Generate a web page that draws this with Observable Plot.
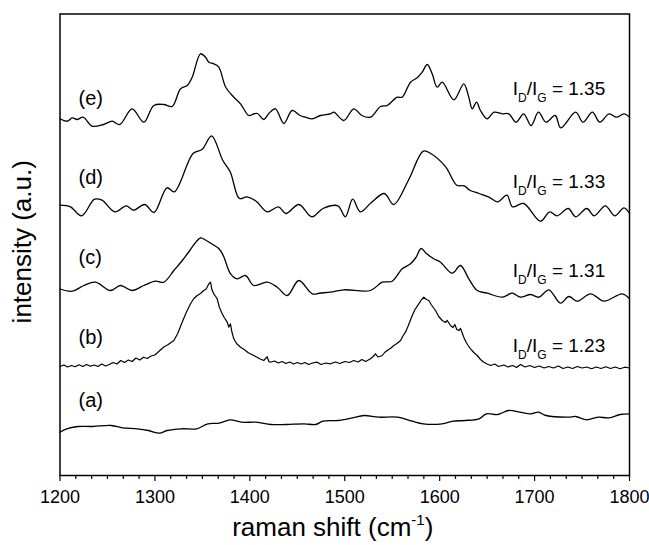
<!DOCTYPE html>
<html>
<head>
<meta charset="utf-8">
<script src="https://cdn.jsdelivr.net/npm/d3@7"></script>
<script src="https://cdn.jsdelivr.net/npm/@observablehq/plot@0.6"></script>
<style>
  html, body { margin: 0; padding: 0; background: #fff; }
  #chart { width: 649px; height: 545px; }
</style>
</head>
<body>
<div id="chart"></div>
<script>
// Raman spectra: [raman shift (cm-1), intensity (a.u., stacked)]
const spectrumA = [
  [1200,43.3],[1207,46.7],[1218.8,49],[1234.4,49],[1254,50],[1265.8,47.7],[1281.4,46.7],[1293.2,45],
  [1304.9,42.3],[1312.7,45],[1328.4,46.7],[1344,46.7],[1355.8,51.7],[1367.5,52.3],[1379.3,55.7],[1391,53.3],
  [1406.7,53.3],[1422.3,51],[1438,51],[1457.5,51.7],[1469.3,51],[1477.1,54.3],[1492.8,55],[1508.4,57.7],
  [1520.2,60],[1535.8,58.3],[1555.4,58.3],[1571,54.3],[1582.8,51.7],[1602.4,51.7],[1614.1,54.3],[1625.8,55],
  [1641.5,56.7],[1649.3,61.7],[1661.1,61],[1672.8,65],[1684.5,63.3],[1696.3,61.7],[1704.1,63.3],[1712,60],
  [1735.4,58.3],[1743.3,59],[1755,55.7],[1766.8,58.3],[1778.5,57.7],[1790.2,61],[1800,61.7]
];
const spectrumB = [
  [1200,109],[1204,110.5],[1208,108.5],[1212,110],[1216,108.8],[1220,110.7],[1224,109],[1228,111],
  [1232,109.2],[1236,110.5],[1240,109],[1244,111.5],[1248,109.5],[1252,111],[1256,113],[1260,111.5],
  [1264,115],[1268,113],[1272,115.5],[1276,114],[1280,117.5],[1284,115.5],[1288,118.3],[1292,117],
  [1296,119.5],[1300,120.5],[1304,124],[1309,128.3],[1314,131],[1320,135],[1324,142],[1328.7,153.3],
  [1333,163],[1337.5,171.7],[1341,177],[1344.6,180],[1348,182],[1351.5,185],[1354,186.5],[1356.8,191.7],
  [1358.6,193.3],[1360,186],[1362,181.7],[1364,179],[1365.6,176.7],[1368,168],[1370.9,161.7],[1373,158],
  [1376.2,153.3],[1377.8,148.3],[1379.6,151.7],[1381,144],[1383.1,136.7],[1386,132],[1390.2,128.3],[1394,126],
  [1398,123],[1401,121.5],[1404.2,120],[1408,118],[1411,116.5],[1414.7,115],[1418.3,118.8],[1420,114],
  [1421.8,113.3],[1426,114.5],[1430,112.5],[1434,114],[1438,112],[1442,113.5],[1446,111.5],[1450,113],
  [1454,111.5],[1458,113],[1462,111],[1466,112.5],[1471,113.3],[1475,111],[1480,112.5],[1485,111.7],
  [1490,113.5],[1495,112],[1500,114],[1505,113],[1509.5,115],[1514,113.5],[1518,116],[1522,114],
  [1527.1,116.7],[1530,119],[1532.4,121.7],[1535,118.5],[1539.5,120],[1542,123],[1544.7,125],[1548,127],
  [1551.7,130],[1555,132],[1558.8,135],[1561,139],[1564,143.3],[1567,150],[1571.1,160],[1574,166],
  [1578,171.7],[1581,176],[1583.3,178.3],[1586,176],[1588.6,175],[1591,171],[1595.6,165],[1599,159],
  [1602.7,155],[1606,153],[1608,155],[1611.4,150],[1614,148],[1616,151],[1618,146],[1620.2,145],
  [1622,147],[1625.4,138.3],[1628,133],[1630,130],[1632.5,126.7],[1636,123],[1639.6,120],[1643,116],
  [1646.5,113.3],[1650,111.5],[1653.6,110],[1658,111.5],[1662,109],[1667.6,110.5],[1672,108.5],[1677,110],
  [1681,108],[1685.2,111],[1690,108.5],[1695,110],[1700,108],[1705,109.5],[1710,107.5],[1715,109],
  [1720,107.5],[1725,109.5],[1730,107],[1735,108.5],[1740,107],[1745,109],[1750,107.5],[1755,108.5],
  [1760,106.8],[1765,108.5],[1770,107],[1775,108.8],[1780,107],[1785,108.5],[1790,106.8],[1795,108.3],
  [1800,107.5]
];
const spectrumC = [
  [1200,186.5],[1212.9,184.3],[1225.1,190],[1237.4,193.3],[1253.2,185],[1263.7,190],[1276.1,185],[1288.3,190],
  [1300.6,194.3],[1309.4,193.3],[1319.9,205],[1328,214],[1336,224],[1342,232],[1348,237.5],[1354,235],
  [1359.7,231.7],[1367.5,226.7],[1372,220],[1379.7,201.7],[1386.7,196.7],[1395.4,200],[1404.2,190],[1418.3,193.3],
  [1428.8,188.3],[1439.4,180],[1451.6,195],[1465.7,181.7],[1474.5,182.5],[1485,183.3],[1499,185.7],[1527.1,185],
  [1539.5,193.3],[1550,194.3],[1560.5,206.7],[1569.3,211.7],[1575,218],[1580.5,227],[1586,222],[1593.8,216.7],
  [1600.9,213.3],[1613.2,202.3],[1621.9,210],[1630.7,196.7],[1639.6,185],[1650.1,182.3],[1665.9,178.3],[1676.4,182.3],
  [1685.2,178.3],[1695.7,181],[1704.5,178.3],[1715,185.7],[1727.3,172.3],[1736.1,179],[1744.9,174.3],[1759,181.7],
  [1773,174.3],[1792.3,181.7],[1800,176.7]
];
const spectrumD = [
  [1200,270.3],[1211,268.7],[1222.7,259.7],[1236.4,276.3],[1244.2,275.3],[1257.9,263.7],[1269.7,269.7],[1277.5,265.3],
  [1289.2,271],[1299,263],[1312.7,287.7],[1320.5,283.7],[1340.1,322],[1349.9,326.3],[1359.7,339.7],[1371.4,315.3],
  [1379.3,303.7],[1389,277],[1396.9,278.7],[1406.7,274.3],[1418.4,263.7],[1430.1,268.7],[1438,262],[1451.7,271],
  [1465.4,258.7],[1477.1,267],[1492.8,269.7],[1500.6,258.7],[1508.4,276.3],[1516.3,263.7],[1528,273],[1541.7,282],
  [1551.5,271],[1567.1,295.3],[1582.8,324.3],[1590.6,322],[1606.3,308.7],[1618,290.3],[1625.8,289.7],[1631.7,285.3],
  [1641.5,282],[1651.3,278.7],[1661.1,273.7],[1670.9,280.3],[1676.7,268.7],[1688.5,272],[1706.1,254.3],[1715.9,263.7],
  [1723.7,259.7],[1735.4,267],[1743.3,258.7],[1755,267],[1762.8,259.7],[1774.6,269.7],[1784.4,259.7],[1794.2,267.7],
  [1800,262]
];
const spectrumE = [
  [1200,356.7],[1207.6,354.3],[1212.9,357.7],[1218,356],[1224.4,358.3],[1233.9,349.3],[1245.8,351],[1255,354.3],
  [1263,351],[1276,366.7],[1288.3,353.3],[1298.8,370],[1309.4,371],[1318.2,369],[1327,386.7],[1334,390],
  [1339.3,398.3],[1348,421.7],[1353.3,418.3],[1356.8,413.3],[1362,411.7],[1367.3,408.3],[1374.6,388.3],[1383.1,378.3],
  [1390.2,371.7],[1398.9,360],[1404,361.5],[1408,362],[1414.7,356],[1420,362],[1427,366.7],[1435.8,352],
  [1444.6,365],[1453,360],[1458.7,358.3],[1465.7,356.7],[1474.5,360],[1485,361.7],[1488.5,363.3],[1499,355],
  [1509.5,366.7],[1518,360],[1527.1,358.3],[1537.7,369],[1544.7,370],[1555.3,378.3],[1560.5,378.3],[1569.3,393.3],
  [1576.3,397.7],[1581.6,403.3],[1586.9,411],[1592.1,401.7],[1597.4,388.3],[1602.7,393.3],[1614.9,375.7],[1625.4,391.7],
  [1630.7,378.3],[1634.3,366.7],[1638.8,373.3],[1643,365],[1650.1,356.7],[1657.2,363.3],[1665.9,361.7],[1672.8,361.7],
  [1680.6,353.3],[1688.5,361.7],[1696.3,350],[1704.1,363.3],[1712,353.3],[1721.7,360],[1727.6,347.7],[1743.3,363.3],
  [1751.1,353.3],[1760.9,363.3],[1768.7,353.3],[1778.5,361.7],[1786.3,358.3],[1794.2,361.7],[1800,358.3]
];

const sampleNames = ["(a)", "(b)", "(c)", "(d)", "(e)"];
const sampleLabelY = [69, 132, 212, 292, 371];
const ratioValues = ["1.23", "1.31", "1.33", "1.35"];
const ratioLabelY = [124, 199, 288, 381];
const majorTicks = [1200, 1300, 1400, 1500, 1600, 1700, 1800];
const xLabel = "raman shift (cm-1)";
const yLabel = "intensity (a.u.)";

const smoothRows = [["c", spectrumC], ["d", spectrumD], ["e", spectrumE], ["a", spectrumA]]
  .flatMap(([id, pts]) => pts.map(([x, y]) => ({id, x, y})));
const noisyRows = spectrumB.map(([x, y]) => ({id: "b", x, y}));
const minorTicks = d3.range(0, 37).map(i => 1200 + i * 100 / 6).filter(v => !majorTicks.some(m => Math.abs(m - v) < 1e-6));

const sampleRows = sampleNames.map((t, i) => ({t, y: sampleLabelY[i]}));
const ratioRows = ratioValues.map((v, i) => ({t: "IDIG" + v, v, y: ratioLabelY[i]}));

const font = "'Liberation Sans', Arial, Helvetica, sans-serif";

const chart = Plot.plot({
  width: 649,
  height: 545,
  marginLeft: 59.5,
  marginRight: 20,
  marginTop: 13.5,
  marginBottom: 70,
  x: {domain: [1200, 1800]},
  y: {domain: [0, 461.5], axis: null},
  style: {fontFamily: font, color: "black", background: "white", overflow: "visible"},
  marks: [
    Plot.axisX({ticks: majorTicks, tickSize: 6, tickPadding: 9, fontSize: 18, strokeWidth: 1.2,
      tickFormat: d => String(d), label: null}),
    Plot.axisX({ticks: minorTicks, tickSize: 4, strokeWidth: 1.2, tickFormat: () => "", label: null}),
    Plot.line(smoothRows, {x: "x", y: "y", z: "id", stroke: "black", strokeWidth: 1.3, curve: "catmull-rom"}),
    Plot.line(noisyRows, {x: "x", y: "y", z: "id", stroke: "black", strokeWidth: 1.2, curve: "linear"}),
    Plot.text(sampleRows, {x: () => 1219.5, y: "y", text: "t", textAnchor: "start", lineAnchor: "bottom",
      fontSize: 20, fill: "black"}),
    Plot.text(ratioRows, {x: () => 1677, y: "y", text: "t", textAnchor: "start", lineAnchor: "bottom",
      fontSize: 19, fill: "black"}),
    Plot.text([xLabel], {frameAnchor: "bottom", dx: -12, dy: 60, lineAnchor: "bottom", fontSize: 26, fill: "black"}),
    Plot.text([yLabel], {frameAnchor: "left", rotate: -90, dx: -29.5, dy: -3, lineAnchor: "bottom",
      textAnchor: "middle", fontSize: 26, fill: "black"}),
    Plot.frame({stroke: "black", strokeWidth: 1.5})
  ]
});

document.getElementById("chart").appendChild(chart);

// Rich text: subscripts and superscript
const ratioByKey = new Map(ratioRows.map(r => [r.t, r.v]));
d3.select(chart).selectAll("text").each(function () {
  const txt = this.textContent;
  const sel = d3.select(this);
  if (ratioByKey.has(txt)) {
    const v = ratioByKey.get(txt);
    sel.text(null);
    sel.append("tspan").text("I");
    sel.append("tspan").attr("dy", 7).attr("font-size", 12).text("D");
    sel.append("tspan").attr("dy", -7).text("/I");
    sel.append("tspan").attr("dy", 7).attr("font-size", 12).text("G");
    sel.append("tspan").attr("dy", -7).text(" = " + v);
  } else if (txt === xLabel) {
    sel.text(null);
    sel.append("tspan").text("raman shift (cm");
    sel.append("tspan").attr("dy", -11).attr("font-size", 15).text("-1");
    sel.append("tspan").attr("dy", 11).text(")");
  }
});
</script>
</body>
</html>
